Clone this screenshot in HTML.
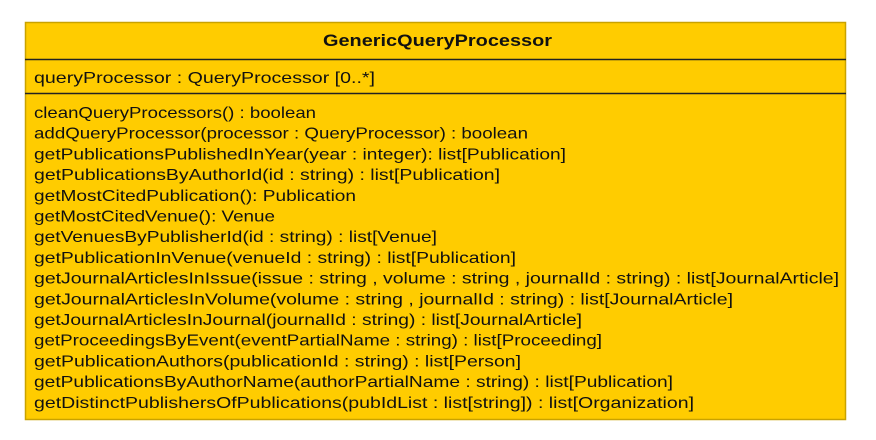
<!DOCTYPE html>
<html><head><meta charset="utf-8"><style>
html,body{margin:0;padding:0;background:#fff;width:876px;height:440px;overflow:hidden}
svg text{font-family:"Liberation Sans","DejaVu Sans",sans-serif;fill:#111}
</style></head><body>
<svg width="876" height="440" xmlns="http://www.w3.org/2000/svg">
<rect x="25.5" y="22.5" width="820" height="397" fill="#FFCC00" stroke="#C9A200" stroke-width="1.5"/>
<line x1="25" y1="59.5" x2="846" y2="59.5" stroke="#222" stroke-width="1.5"/>
<line x1="25" y1="93.5" x2="846" y2="93.5" stroke="#222" stroke-width="1.5"/>
<text x="323" y="46" font-size="17" font-weight="bold" textLength="229" lengthAdjust="spacingAndGlyphs">GenericQueryProcessor</text>
<text x="34" y="83" font-size="16" textLength="341" lengthAdjust="spacingAndGlyphs">queryProcessor : QueryProcessor [0..*]</text>
<g font-size="16">
<text x="34" y="118" textLength="282" lengthAdjust="spacingAndGlyphs">cleanQueryProcessors() : boolean</text>
<text x="34" y="138.7" textLength="494" lengthAdjust="spacingAndGlyphs">addQueryProcessor(processor : QueryProcessor) : boolean</text>
<text x="34" y="159.4" textLength="532" lengthAdjust="spacingAndGlyphs">getPublicationsPublishedInYear(year : integer): list[Publication]</text>
<text x="34" y="180.1" textLength="466" lengthAdjust="spacingAndGlyphs">getPublicationsByAuthorId(id : string) : list[Publication]</text>
<text x="34" y="200.8" textLength="322" lengthAdjust="spacingAndGlyphs">getMostCitedPublication(): Publication</text>
<text x="34" y="221.5" textLength="241" lengthAdjust="spacingAndGlyphs">getMostCitedVenue(): Venue</text>
<text x="34" y="242.2" textLength="403" lengthAdjust="spacingAndGlyphs">getVenuesByPublisherId(id : string) : list[Venue]</text>
<text x="34" y="262.9" textLength="482" lengthAdjust="spacingAndGlyphs">getPublicationInVenue(venueId : string) : list[Publication]</text>
<text x="34" y="283.6" textLength="805" lengthAdjust="spacingAndGlyphs">getJournalArticlesInIssue(issue : string , volume : string , journalId : string) : list[JournalArticle]</text>
<text x="34" y="304.3" textLength="699" lengthAdjust="spacingAndGlyphs">getJournalArticlesInVolume(volume : string , journalId : string) : list[JournalArticle]</text>
<text x="34" y="325" textLength="548" lengthAdjust="spacingAndGlyphs">getJournalArticlesInJournal(journalId : string) : list[JournalArticle]</text>
<text x="34" y="345.7" textLength="568" lengthAdjust="spacingAndGlyphs">getProceedingsByEvent(eventPartialName : string) : list[Proceeding]</text>
<text x="34" y="366.4" textLength="487" lengthAdjust="spacingAndGlyphs">getPublicationAuthors(publicationId : string) : list[Person]</text>
<text x="34" y="387.1" textLength="639" lengthAdjust="spacingAndGlyphs">getPublicationsByAuthorName(authorPartialName : string) : list[Publication]</text>
<text x="34" y="407.8" textLength="660" lengthAdjust="spacingAndGlyphs">getDistinctPublishersOfPublications(pubIdList : list[string]) : list[Organization]</text>
</g>
</svg>
</body></html>
